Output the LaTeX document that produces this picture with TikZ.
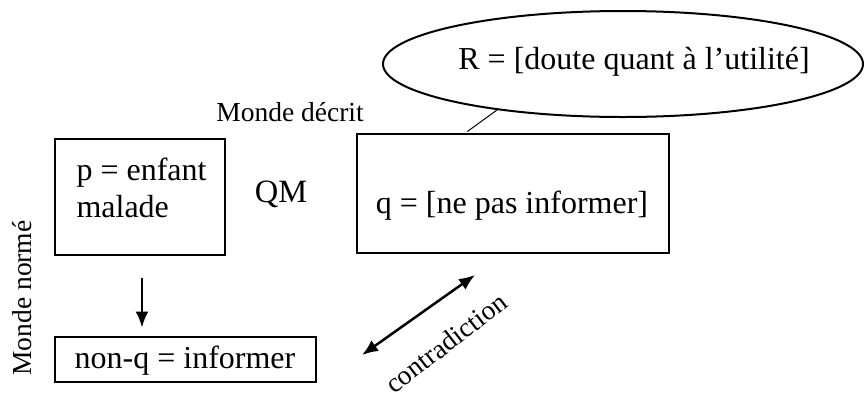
\documentclass[tikz,border=0pt]{standalone}
\usepackage{fontspec}
\setmainfont{Liberation Serif}
\usetikzlibrary{shapes.geometric,arrows.meta,calc}
\begin{document}
\begin{tikzpicture}[x=0.4pt,y=-0.4pt,
  box/.style={draw,line width=0.45pt,inner sep=0pt},
  txt/.style={font=\fontsize{12.8}{15}\selectfont,inner sep=0pt},
  small/.style={font=\fontsize{11}{13}\selectfont,inner sep=0pt},
  arr/.style={line width=1pt,-{Latex[length=6.4pt,width=5.2pt]}},
  darr/.style={line width=1pt,{Latex[length=6.4pt,width=5.2pt]}-{Latex[length=6.4pt,width=5.2pt]}}]
\useasboundingbox (0,0) rectangle (865,394);
% ellipse
\node[ellipse,draw,line width=0.8pt,minimum width=480*0.4pt,minimum height=106*0.4pt,inner sep=0pt] (R) at (623,64) {};
\node[txt] at (634,62) {R = [doute quant à l’utilité]};
% boxes
\node[box,minimum width=170*0.4pt,minimum height=116*0.4pt] (p) at (140,197) {};
\node[txt,align=left,anchor=north west] at (76,157) {p = enfant\\malade};
\node[box,minimum width=312*0.4pt,minimum height=119*0.4pt] (q) at (513,193.5) {};
\node[txt] at (512,206) {q = [ne pas informer]};
\node[box,minimum width=261*0.4pt,minimum height=45*0.4pt] (nq) at (185.5,359.5) {};
\node[txt] at (185,361) {non-q = informer};
% labels
\node[small] (md) at (290,112) {Monde décrit};
\node[font=\fontsize{13}{15}\selectfont,inner sep=0pt] (qm) at (281,194) {QM};
\node[small,rotate=90] (mn) at (22,298) {Monde normé};
% connectors
\draw[line width=0.4pt] ($(R.south)+(-126,-8)$) coordinate (r1) -- ($(q.north west)+(111,-2)$);
\draw[arr] ($(p.south)+(2,22)$) -- ($(p.south)+(2,72)$);
\coordinate (c1) at (362,355);
\coordinate (c2) at (475,275);
\draw[darr] (c1) -- (c2);
\node[small,rotate=37.6] at (446,343) {contradiction};
\end{tikzpicture}
\end{document}
